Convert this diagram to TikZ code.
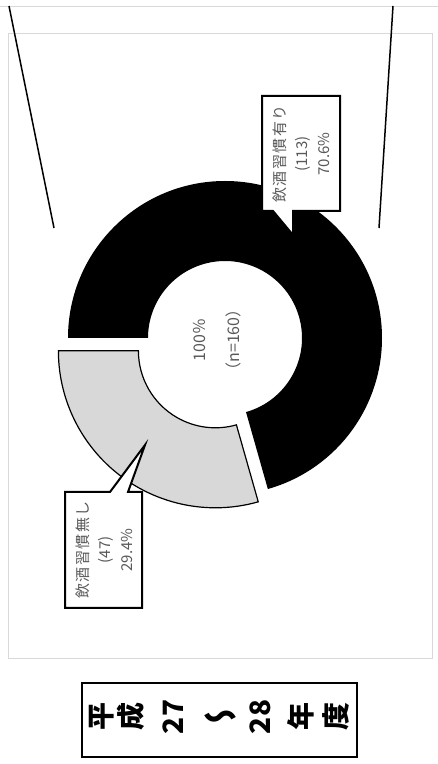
\documentclass[tikz,border=0pt]{standalone}
\usepackage{fontspec}
\setmainfont{Noto Sans CJK JP}
\definecolor{gristexte}{HTML}{595959}
\definecolor{griscadre}{HTML}{D9D9D9}
\definecolor{grispart}{HTML}{D8D8D8}
\newcommand\espace[1]{{\addfontfeature{LetterSpace=10}#1}}
\tikzset{
  etiquette/.style={rotate=90, align=center, text=gristexte, inner sep=0pt,
    font=\fontsize{15}{22}\selectfont},
  bulle/.style={fill=white, draw=black, line width=2pt, line join=miter},
  signe/.style={rotate=90, inner sep=0pt, font=\bfseries\fontsize{28}{28}\selectfont},
}
\begin{document}
\begin{tikzpicture}[x=1pt, y=1pt]
\useasboundingbox (0,0) rectangle (438,764); % Pour la bounding box

\draw [griscadre, line width=0.8pt] (0,758) -- (438,758);
\draw [griscadre, line width=0.8pt] (8,106) rectangle (432,731);
\draw [line width=1.5pt] (9,758) -- (54,536);
\draw [line width=1.5pt] (393,758) -- (379,536);

% anneau
\fill [shift={(225,426)}] (180:157) arc (180:-74.16:157) -- (-74.16:77) arc (-74.16:180:77) -- cycle;
\draw [shift={(215.4,413.2)}, fill=grispart, line width=1.2pt] (-74.16:157) arc (-74.16:-180:157) -- (180:77) arc (-180:-74.16:77) -- cycle;

\node [etiquette, font=\fontsize{16}{34}\selectfont] (centre) at (217,424) {100％\\（n=160）};

% bulles
\draw [bulle] (262,553) -- (273,553) -- (293,529) -- (293,553) -- (340,553) -- (340,668) -- (262,668) -- cycle;
\node [etiquette] (avec) at (301,610) {\espace{飲酒習慣有り}\\(113)\\70.6\%};
\draw [bulle] (65,272) -- (110,272) -- (145,319) -- (128,272) -- (142,272) -- (142,156) -- (65,156) -- cycle;
\node [etiquette] (sans) at (104,214) {\espace{飲酒習慣無し}\\(47)\\29.4\%};

% titre
\draw [line width=1.5pt] (82,7) rectangle (357,81);
\foreach \g/\x [count=\i] in {平/102, 成/131, 27/173, 28/260, 年/301, 度/336}
  \node [signe] (titre\i) at (\x,47) {\g};
\node [inner sep=0pt, xscale=-1, font=\bfseries\fontsize{34}{34}\selectfont] (vague) at (220,44) {～};
\end{tikzpicture}
\end{document}
